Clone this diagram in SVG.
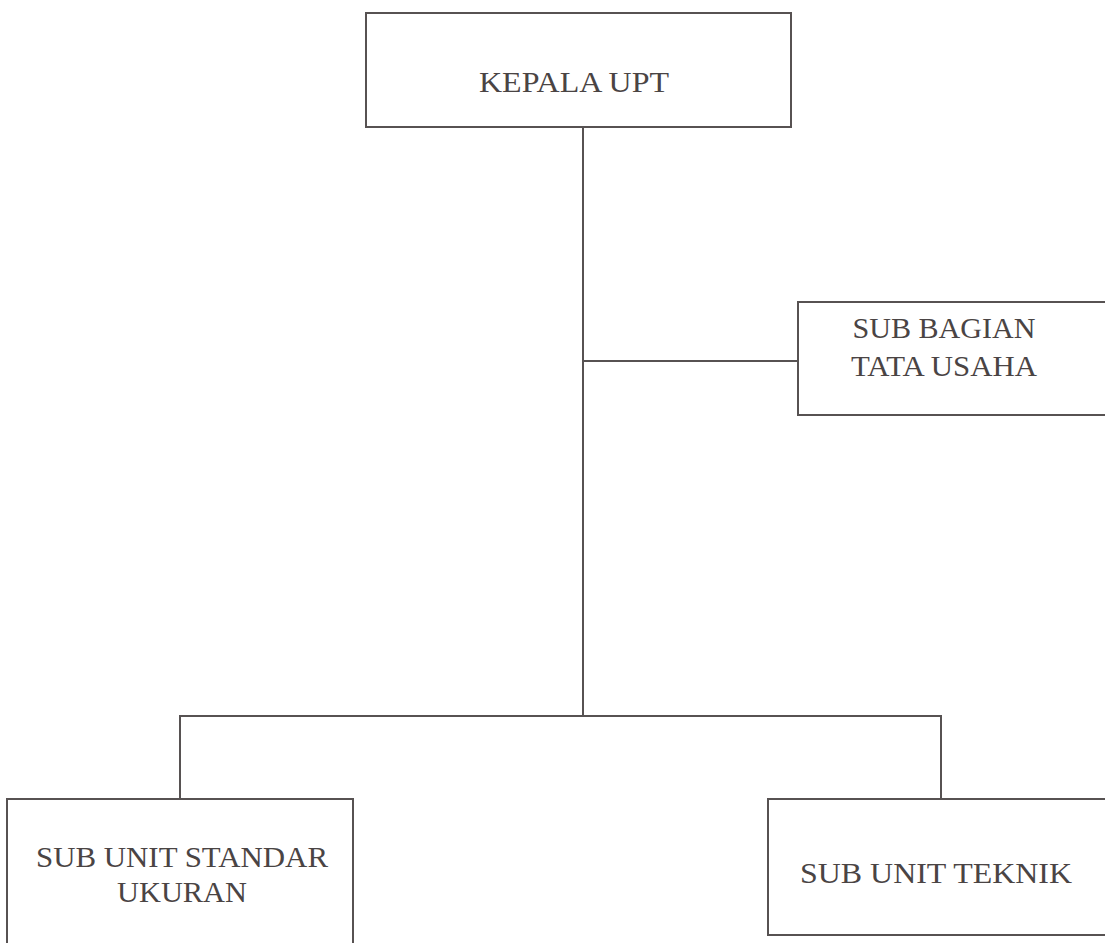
<svg xmlns="http://www.w3.org/2000/svg" width="1105" height="943" viewBox="0 0 1105 943">
<style>
.box{fill:#fff;stroke:#575252;stroke-width:2}
.ln{fill:none;stroke:#575252;stroke-width:2}
.t{font-family:"Liberation Serif",serif;font-size:30px;fill:#4a4444;text-anchor:middle}
</style>
<rect width="1105" height="943" fill="#fff"/>
<g id="connectors">
<path class="ln" d="M583,127 V716"/>
<path class="ln" d="M583,361 H798"/>
<path class="ln" d="M180,799 V716 H941 V799"/>
</g>
<g id="kepala">
<rect class="box" x="366" y="13" width="425" height="114"/>
<text class="t" x="574" y="92" textLength="190" lengthAdjust="spacingAndGlyphs">KEPALA UPT</text>
</g>
<g id="subbagian">
<rect class="box" x="798" y="302" width="320" height="113"/>
<text class="t" x="944" y="338" textLength="183" lengthAdjust="spacingAndGlyphs">SUB BAGIAN</text>
<text class="t" x="944" y="376" textLength="186" lengthAdjust="spacingAndGlyphs">TATA USAHA</text>
</g>
<g id="standar">
<rect class="box" x="7" y="799" width="346" height="160"/>
<text class="t" x="182" y="867" textLength="292" lengthAdjust="spacingAndGlyphs">SUB UNIT STANDAR</text>
<text class="t" x="182" y="902" textLength="130" lengthAdjust="spacingAndGlyphs">UKURAN</text>
</g>
<g id="teknik">
<rect class="box" x="768" y="799" width="350" height="136"/>
<text class="t" x="936" y="883" textLength="272" lengthAdjust="spacingAndGlyphs">SUB UNIT TEKNIK</text>
</g>
</svg>
